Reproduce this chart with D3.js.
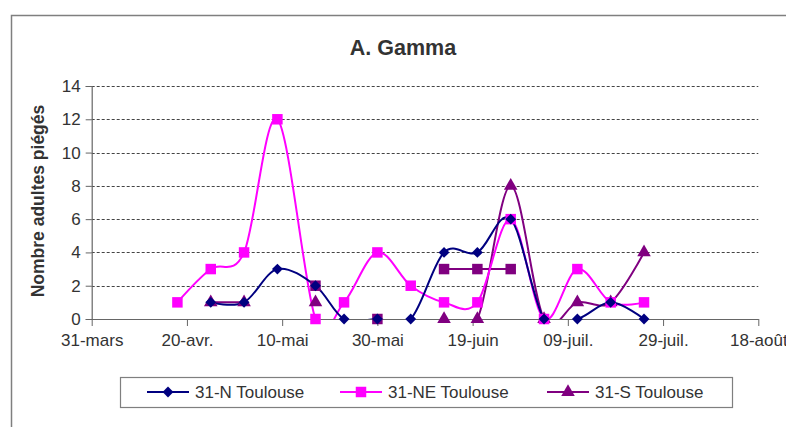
<!DOCTYPE html>
<html>
<head>
<meta charset="utf-8">
<script src="https://cdn.jsdelivr.net/npm/d3@7"></script>
<style>
  body { margin: 0; background: #fff; }
  svg { display: block; font-family: "Liberation Sans", Arial, sans-serif; }
</style>
</head>
<body>
<svg width="786" height="427"></svg>
<script>
// sampling dates (weekly-ish traps)
const dates = ["2009-04-18", "2009-04-25", "2009-05-02", "2009-05-09", "2009-05-17",
  "2009-05-23", "2009-05-30", "2009-06-06", "2009-06-13", "2009-06-20",
  "2009-06-27", "2009-07-04", "2009-07-11", "2009-07-18", "2009-07-25"];

const north = [null, 1, 1, 3, 2, 0, 0, 0, 4, 4, 6, 0, 0, 1, 0];
const northEast = [1, 3, 4, 12, 0, 1, 4, 2, 1, 1, 6, 0, 3, 1, 1];
const south = [null, 1, 1, null, 1, null, null, null, 0, 0, 8, 0, 1, 1, 4];
// extra series shown with squares but not in the legend
const extra = [null, null, null, null, 2, null, 0, null, 3, 3, 3, null, null, null, null];

const tickDates = ["2009-03-31", "2009-04-20", "2009-05-10", "2009-05-30",
  "2009-06-19", "2009-07-09", "2009-07-29", "2009-08-18"];
const tickLabels = ["31-mars", "20-avr.", "10-mai", "30-mai", "19-juin", "09-juil.", "29-juil.", "18-août"];
const yTicks = [0, 2, 4, 6, 8, 10, 12, 14];

const parse = d3.timeParse("%Y-%m-%d");

const series = [
  { name: "31-S Toulouse", values: south, color: "#800080", marker: "triangle", legend: 2 },
  { name: "", values: extra, color: "#800080", marker: "square", legend: -1 },
  { name: "31-NE Toulouse", values: northEast, color: "#ff00ff", marker: "square", legend: 1 },
  { name: "31-N Toulouse", values: north, color: "#000080", marker: "diamond", legend: 0 }
];

const margin = { left: 91.7, right: 758.3, top: 86, bottom: 319 };
const svg = d3.select("svg");

let x = d3.scaleTime()
  .domain([parse(tickDates[0]), parse(tickDates[tickDates.length - 1])])
  .range([margin.left, margin.right]);
let y = d3.scaleLinear().domain([0, 14]).range([margin.bottom, margin.top]);

// outer frame
svg.append("rect")
  .attr("x", 11.5).attr("y", 15.5)
  .attr("width", 800).attr("height", 450)
  .attr("fill", "none").attr("stroke", "#7f7f7f").attr("stroke-width", 1.5);

svg.append("text")
  .attr("x", 403).attr("y", 55)
  .attr("text-anchor", "middle")
  .attr("font-size", 21.5).attr("font-weight", "bold").attr("fill", "#333")
  .text("A. Gamma");

// gridlines
svg.append("g").selectAll("line")
  .data(yTicks.filter(d => d > 0))
  .enter().append("line")
  .attr("x1", margin.left).attr("x2", margin.right)
  .attr("y1", d => Math.round(y(d)) + 0.5).attr("y2", d => Math.round(y(d)) + 0.5)
  .attr("stroke", "#444").attr("stroke-width", 1)
  .attr("stroke-dasharray", "3,2");

// y axis
let yAxis = d3.axisLeft(y).tickValues(yTicks).tickSize(6).tickPadding(5);
let gy = svg.append("g").attr("transform", `translate(${margin.left},0)`).call(yAxis);
gy.select(".domain").attr("stroke", "#666").attr("stroke-width", 1.2);
gy.selectAll(".tick line").attr("stroke", "#666");
gy.selectAll("text").attr("font-size", 17).attr("fill", "#333")
  .attr("font-family", "Liberation Sans, Arial, sans-serif");

// x axis
let xAxis = d3.axisBottom(x)
  .tickValues(tickDates.map(parse))
  .tickFormat((d, i) => tickLabels[i])
  .tickSize(7).tickPadding(8).tickSizeOuter(0);
let gx = svg.append("g").attr("transform", `translate(0,${margin.bottom})`).call(xAxis);
gx.select(".domain").attr("stroke", "#666").attr("stroke-width", 1.2);
gx.selectAll(".tick line").attr("stroke", "#666");
gx.selectAll("text").attr("font-size", 17).attr("fill", "#333")
  .attr("font-family", "Liberation Sans, Arial, sans-serif");

svg.append("text")
  .attr("transform", "translate(44,201) rotate(-90)")
  .attr("text-anchor", "middle")
  .attr("font-size", 17.5).attr("font-weight", "bold").attr("fill", "#333")
  .text("Nombre adultes piégés");

// plot clip
svg.append("clipPath").attr("id", "plot")
  .append("rect")
  .attr("x", margin.left).attr("y", margin.top - 20)
  .attr("width", margin.right - margin.left).attr("height", margin.bottom - margin.top + 20);

const line = d3.line()
  .defined(d => d.v != null)
  .x(d => x(d.date))
  .y(d => y(d.v))
  .curve(d3.curveCardinal.tension(0));

function pts(s) {
  return s.values.map((v, i) => ({ date: parse(dates[i]), v: v }));
}

const symbols = {
  diamond: d3.symbol().type(d3.symbolDiamond2).size(75),
  square: d3.symbol().type(d3.symbolSquare).size(110),
  triangle: d3.symbol().type(d3.symbolTriangle).size(80)
};

const lines = svg.append("g").attr("clip-path", "url(#plot)");
series.forEach(s => {
  lines.append("path")
    .datum(pts(s))
    .attr("d", line)
    .attr("fill", "none")
    .attr("stroke", s.color)
    .attr("stroke-width", 2);
});

series.forEach(s => {
  svg.append("g").selectAll("path")
    .data(pts(s).filter(d => d.v != null))
    .enter().append("path")
    .attr("transform", d => `translate(${x(d.date)},${y(d.v)})`)
    .attr("d", symbols[s.marker])
    .attr("fill", s.color);
});

// legend
svg.append("rect")
  .attr("x", 120.5).attr("y", 377.5).attr("width", 612).attr("height", 30)
  .attr("fill", "none").attr("stroke", "#7f7f7f").attr("stroke-width", 1.2);

const legendX = [147, 340, 547];
series.filter(s => s.legend >= 0).forEach(s => {
  let lx = legendX[s.legend];
  let g = svg.append("g");
  g.append("line")
    .attr("x1", lx).attr("x2", lx + 42).attr("y1", 392).attr("y2", 392)
    .attr("stroke", s.color).attr("stroke-width", 2);
  g.append("path")
    .attr("transform", `translate(${lx + 21},392)`)
    .attr("d", symbols[s.marker])
    .attr("fill", s.color);
  g.append("text")
    .attr("x", lx + 48).attr("y", 398)
    .attr("font-size", 17).attr("fill", "#333")
    .text(s.name);
});
</script>
</body>
</html>
